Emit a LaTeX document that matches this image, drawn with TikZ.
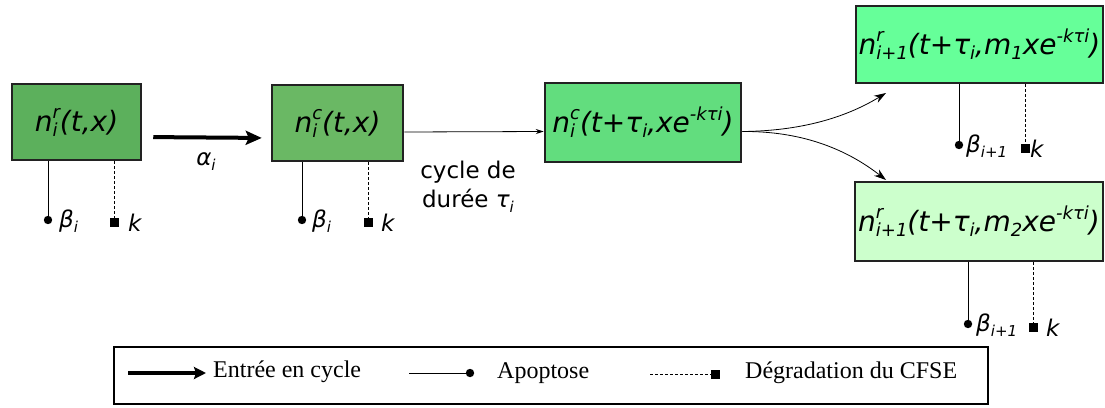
\documentclass[tikz,border=0pt]{standalone}
\usepackage{fontspec}
\setmainfont{DejaVu Sans}
\newfontfamily\tms{Liberation Serif}
\usetikzlibrary{arrows.meta}
\definecolor{gA}{HTML}{5CB05C}
\definecolor{gB}{HTML}{6AB864}
\definecolor{gC}{HTML}{62DD7E}
\definecolor{gD}{HTML}{66FF99}
\definecolor{gE}{HTML}{CCFFCC}
\definecolor{edge}{HTML}{222222}
\newcommand\sps[2]{{\fontsize{18}{18}\selectfont\setbox0\hbox{\raisebox{13pt}{#1}}\setbox2\hbox{\raisebox{-5pt}{#2}}\ifdim\wd0>\wd2 \rlap{\box2}\box0 \else\rlap{\box0}\box2\fi}}
\newcommand\up[1]{\raisebox{12pt}{\fontsize{18}{18}\selectfont #1}}
\newcommand\dn[1]{\raisebox{-5pt}{\fontsize{18}{18}\selectfont #1}}
\newcommand\dnl[1]{\raisebox{-5pt}{\fontsize{15}{15}\selectfont #1}}
\tikzset{
  pop/.style={draw=edge, line width=2.5pt, minimum width=#1, inner sep=0pt, font=\fontsize{28}{28}\selectfont\itshape},
  drop/.style={line width=0.8pt, draw=black},
  dropd/.style={line width=0.8pt, draw=black, dash pattern=on 3pt off 2pt},
  lab/.style={font=\fontsize{23}{23}\selectfont\itshape, inner sep=0pt, anchor=west},
  legtxt/.style={font=\tms\fontsize{24}{24}\selectfont, anchor=west, inner sep=0pt},
}
\begin{document}
\begin{tikzpicture}[x=1pt,y=-1pt]
\useasboundingbox (0,0) rectangle (1105,407);
% boxes
\node[pop=129pt, minimum height=76pt, fill=gA] (b1) at (76.5,122) {n\sps{r}{i}(t,x)};
\node[pop=131pt, minimum height=76pt, fill=gB] (b2) at (337.5,123) {n\sps{c}{i}(t,x)};
\node[pop=196pt, minimum height=79pt, fill=gC] (b3) at (643,122.5) {n\sps{c}{i}(t+τ\dn{i},xe\up{-kτi})};
\node[pop=247pt, minimum height=77pt, fill=gD] (b4) at (979.5,44.5) {n\sps{r}{i+1}(t+τ\dn{i},m\dn{1}xe\up{-kτi})};
\node[pop=248pt, minimum height=79pt, fill=gE] (b5) at (979,221.5) {n\sps{r}{i+1}(t+τ\dn{i},m\dn{2}xe\up{-kτi})};
% arrows
\draw[line width=4pt, -{Stealth[length=16pt,width=14pt,inset=3pt]}, shorten <=11pt, shorten >=9pt] ([yshift=-15pt]b1.east) -- ([yshift=-15pt]b2.west);
\node[lab, anchor=center] (alpha) at (206,162) {α\dnl{i}};
\draw[line width=0.8pt, -{Stealth[length=8pt,width=5pt]}] ([yshift=-9pt]b2.east) -- ([yshift=-9pt]b3.west);
\node[font=\fontsize{23}{29}\selectfont, align=center, inner sep=0pt] (cyc) at (468,187) {cycle de\\durée \textit{τ\dnl{i}}};
\coordinate (t4) at (886,93);
\coordinate (t5) at (886,180);
\draw[line width=0.8pt, -{Stealth[length=12pt,width=8pt]}] ([yshift=-9pt]b3.east) .. controls (800,131) and (845,118) .. (t4);
\draw[line width=0.8pt, -{Stealth[length=12pt,width=8pt]}] ([yshift=-9pt]b3.east) .. controls (800,131) and (845,148) .. (t5);
% drop lines
\foreach \b/\sx/\sy/\qx/\qy/\lb/\bx/\kx in {b1/48/220/114/222/i/11/14, b2/302/220/368/222/i/10/13, b4/959/145/1025/148/i+1/7/5, b5/968/324/1033/327/i+1/8/13}{
  \coordinate (\b d) at (\sx,\sy);
  \coordinate (\b q) at (\qx,\qy);
  \draw[drop] (\b d |- \b.south) -- (\b d);
  \fill (\b d) circle (4.2pt);
  \node[lab] (\b beta) at ([xshift=\bx pt,yshift=-1pt]\b d) {β\dnl{\lb}};
  \draw[dropd] (\b q |- \b.south) -- (\b q);
  \fill ([shift={(-4.5pt,-4.5pt)}]\b q) rectangle ([shift={(4.5pt,4.5pt)}]\b q);
  \node[lab] (\b k) at ([xshift=\kx pt,yshift=-1pt]\b q) {k};
}
% legend
\node[draw=black, line width=1.3pt, minimum width=874pt, minimum height=57pt, inner sep=0pt] (leg) at (551,375.5) {};
\coordinate (l1a) at (128,373);
\coordinate (l1b) at (206,373);
\draw[line width=4pt, -{Stealth[length=12pt,width=12pt,inset=2pt]}] (l1a) -- (l1b);
\node[legtxt] (e1) at (213,372) {Entrée en cycle};
\coordinate (l2a) at (409,373);
\coordinate (l2b) at (470,373);
\draw[line width=0.8pt] (l2a) -- (l2b);
\fill (l2b) circle (4.2pt);
\node[legtxt] (e2) at (497,373) {Apoptose};
\coordinate (l3a) at (650,374);
\coordinate (l3b) at (715,374);
\draw[dropd] (l3a) -- (l3b);
\fill ([shift={(-4.5pt,-4.5pt)}]l3b) rectangle ([shift={(4.5pt,4.5pt)}]l3b);
\node[legtxt] (e3) at (745,373) {Dégradation du CFSE};
\end{tikzpicture}
\end{document}
